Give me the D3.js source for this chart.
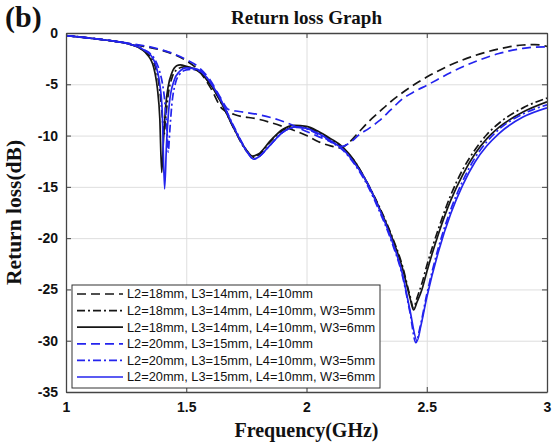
<!DOCTYPE html>
<html>
<head>
<meta charset="utf-8">
<script src="https://cdn.jsdelivr.net/npm/d3@7"></script>
<style>
  html, body { margin: 0; padding: 0; background: #fff; }
  svg { display: block; }
</style>
</head>
<body>
<svg id="chart" width="556" height="444"></svg>
<script>
// Return loss (dB) versus frequency (GHz), pairs of [f, dB]
const l18Base = [[1.00,-0.25],[1.10,-0.5],[1.20,-0.8],[1.30,-1.2],[1.40,-1.7],[1.45,-2.1],[1.50,-2.7],[1.55,-3.6],[1.60,-5.3],[1.65,-7.4],[1.70,-7.95],[1.80,-8.4],[1.90,-9.1],[2.00,-10.0],[2.05,-10.6],[2.10,-11.0],[2.14,-11.2],[2.18,-10.6],[2.22,-9.6],[2.26,-8.6],[2.30,-7.75],[2.35,-6.7],[2.40,-5.8],[2.45,-5.0],[2.50,-4.3],[2.60,-3.1],[2.70,-2.2],[2.80,-1.55],[2.90,-1.17],[2.95,-1.13],[3.00,-1.3]];
const l18W5 = [[1.00,-0.25],[1.10,-0.5],[1.20,-0.8],[1.25,-1.0],[1.30,-1.38],[1.33,-1.8],[1.35,-2.3],[1.37,-3.2],[1.38,-4.1],[1.39,-5.6],[1.40,-8.0],[1.407,-10.0],[1.415,-8.2],[1.425,-6.0],[1.44,-4.4],[1.46,-3.6],[1.49,-3.3],[1.52,-3.4],[1.55,-3.7],[1.60,-5.0],[1.65,-7.0],[1.70,-9.4],[1.75,-11.5],[1.78,-12.1],[1.80,-11.9],[1.85,-10.6],[1.90,-9.5],[1.96,-9.1],[2.00,-9.2],[2.05,-9.7],[2.10,-10.4],[2.15,-11.2],[2.20,-12.5],[2.25,-14.5],[2.30,-16.8],[2.35,-19.5],[2.40,-22.8],[2.43,-25.6],[2.445,-26.8],[2.46,-25.8],[2.48,-24.4],[2.50,-22.7],[2.55,-19.0],[2.60,-15.8],[2.65,-13.3],[2.70,-11.4],[2.75,-9.9],[2.80,-8.8],[2.90,-7.3],[3.00,-6.35]];
const l18W6 = [[1.00,-0.25],[1.10,-0.5],[1.20,-0.8],[1.25,-1.0],[1.30,-1.4],[1.33,-1.9],[1.35,-2.5],[1.36,-3.0],[1.37,-3.9],[1.38,-5.4],[1.39,-8.3],[1.398,-13.6],[1.405,-10.6],[1.415,-7.0],[1.425,-5.2],[1.44,-3.9],[1.46,-3.2],[1.475,-3.1],[1.50,-3.25],[1.55,-3.7],[1.60,-5.0],[1.65,-7.0],[1.70,-9.4],[1.75,-11.4],[1.775,-12.0],[1.80,-11.8],[1.85,-10.5],[1.90,-9.4],[1.95,-9.0],[2.00,-9.1],[2.05,-9.6],[2.10,-10.3],[2.15,-11.1],[2.20,-12.5],[2.25,-14.5],[2.30,-16.9],[2.35,-19.6],[2.40,-23.0],[2.43,-25.8],[2.445,-27.0],[2.46,-26.2],[2.48,-25.0],[2.50,-23.3],[2.55,-19.5],[2.60,-16.3],[2.65,-13.8],[2.70,-11.8],[2.75,-10.3],[2.80,-9.2],[2.90,-7.7],[3.00,-6.7]];
const l20Base = [[1.00,-0.25],[1.10,-0.5],[1.20,-0.78],[1.30,-1.15],[1.35,-1.35],[1.40,-1.65],[1.45,-2.05],[1.50,-2.6],[1.55,-3.3],[1.60,-4.6],[1.64,-6.2],[1.675,-7.45],[1.72,-7.65],[1.80,-7.95],[1.90,-8.6],[2.00,-9.6],[2.05,-10.1],[2.10,-10.6],[2.15,-11.05],[2.18,-10.7],[2.22,-9.9],[2.26,-9.3],[2.30,-8.6],[2.35,-7.5],[2.40,-6.4],[2.45,-5.7],[2.50,-5.1],[2.60,-3.85],[2.70,-2.8],[2.80,-2.0],[2.90,-1.5],[2.95,-1.38],[3.00,-1.35]];
const l20W5 = [[1.00,-0.25],[1.10,-0.5],[1.20,-0.8],[1.25,-1.0],[1.30,-1.35],[1.33,-1.7],[1.35,-2.0],[1.37,-2.6],[1.39,-3.8],[1.40,-4.8],[1.41,-6.5],[1.42,-9.5],[1.425,-11.6],[1.432,-9.4],[1.44,-7.0],[1.455,-4.9],[1.47,-4.1],[1.50,-3.6],[1.52,-3.55],[1.56,-3.75],[1.60,-4.8],[1.65,-6.8],[1.70,-9.2],[1.75,-11.4],[1.78,-12.3],[1.80,-12.1],[1.85,-10.9],[1.90,-9.7],[1.96,-9.2],[2.00,-9.35],[2.05,-9.9],[2.10,-10.6],[2.15,-11.4],[2.20,-12.8],[2.25,-14.7],[2.30,-17.2],[2.35,-20.1],[2.40,-23.8],[2.43,-27.2],[2.455,-30.2],[2.47,-28.9],[2.50,-25.5],[2.55,-20.8],[2.60,-17.2],[2.65,-14.4],[2.70,-12.2],[2.75,-10.6],[2.80,-9.4],[2.90,-7.9],[3.00,-7.0]];
const l20W6 = [[1.00,-0.25],[1.10,-0.5],[1.20,-0.8],[1.25,-1.0],[1.30,-1.35],[1.33,-1.75],[1.35,-2.1],[1.37,-2.9],[1.38,-3.7],[1.39,-5.0],[1.40,-7.6],[1.41,-15.2],[1.418,-10.8],[1.43,-6.8],[1.45,-4.6],[1.47,-3.8],[1.50,-3.4],[1.53,-3.45],[1.56,-3.7],[1.60,-4.8],[1.65,-6.8],[1.70,-9.3],[1.75,-11.5],[1.78,-12.3],[1.80,-12.1],[1.85,-10.9],[1.90,-9.7],[1.96,-9.15],[2.00,-9.3],[2.05,-9.8],[2.10,-10.5],[2.15,-11.3],[2.20,-12.7],[2.25,-14.5],[2.30,-17.0],[2.35,-19.9],[2.40,-23.6],[2.43,-27.0],[2.46,-30.0],[2.475,-28.6],[2.50,-25.8],[2.55,-21.2],[2.60,-17.6],[2.65,-14.8],[2.70,-12.6],[2.75,-11.0],[2.80,-9.8],[2.90,-8.2],[3.00,-7.3]];

const seriesLabels = [
  "L2=18mm, L3=14mm, L4=10mm",
  "L2=18mm, L3=14mm, L4=10mm, W3=5mm",
  "L2=18mm, L3=14mm, L4=10mm, W3=6mm",
  "L2=20mm, L3=15mm, L4=10mm",
  "L2=20mm, L3=15mm, L4=10mm, W3=5mm",
  "L2=20mm, L3=15mm, L4=10mm, W3=6mm"
];
const seriesValues = [l18Base, l18W5, l18W6, l20Base, l20W5, l20W6];

const xTicks = [1, 1.5, 2, 2.5, 3];
const yTicks = [0, -5, -10, -15, -20, -25, -30, -35];

// Line styles for each curve
const BLACK = "#161616", BLUE = "#2424ee";
const styles = [
  { color: BLACK, dash: "9,5" },
  { color: BLACK, dash: "8,3,2,3" },
  { color: BLACK, dash: null },
  { color: BLUE,  dash: "9,5" },
  { color: BLUE,  dash: "8,3,2,3" },
  { color: BLUE,  dash: null }
];

const svg = d3.select("#chart");
const plotL = 66, plotR = 547, plotT = 33, plotB = 392;
const W = plotR - plotL, H = plotB - plotT;

const x = d3.scaleLinear().domain([1, 3]).range([plotL, plotR]);
const y = d3.scaleLinear().domain([-35, 0]).range([plotB, plotT]);

const serif = "'Liberation Serif', 'Times New Roman', serif";
const sans = "'Liberation Sans', Arial, sans-serif";

// grid
const grid = svg.append("g");
grid.append("g")
  .attr("transform", `translate(0,${plotB})`)
  .call(d3.axisBottom(x).tickValues(xTicks.slice(1, -1)).tickSize(-H).tickFormat(""))
  .call(g => g.select(".domain").remove())
  .call(g => g.selectAll("line").attr("stroke", "#dedede").attr("stroke-width", 1));
grid.append("g")
  .attr("transform", `translate(${plotL},0)`)
  .call(d3.axisLeft(y).tickValues(yTicks.slice(1, -1)).tickSize(-W).tickFormat(""))
  .call(g => g.select(".domain").remove())
  .call(g => g.selectAll("line").attr("stroke", "#dedede").attr("stroke-width", 1));

// curves
svg.append("defs").append("clipPath").attr("id", "plotClip")
  .append("rect").attr("x", plotL).attr("y", plotT).attr("width", W).attr("height", H);

const line = d3.line()
  .x(d => x(d[0]))
  .y(d => y(d[1]))
  .curve(d3.curveMonotoneX);

const curves = svg.append("g").attr("clip-path", "url(#plotClip)");
seriesValues.forEach((vals, i) => {
  curves.append("path")
    .datum(vals)
    .attr("d", line)
    .attr("fill", "none")
    .attr("stroke", styles[i].color)
    .attr("stroke-width", 1.7)
    .attr("stroke-dasharray", styles[i].dash)
    .attr("stroke-linejoin", "round");
});

// axes with inward ticks on all four sides
const axisColor = "#444";
function styleAxis(g) {
  g.select(".domain").attr("stroke", axisColor).attr("stroke-width", 1.3);
  g.selectAll(".tick line").attr("stroke", axisColor);
  g.selectAll(".tick text")
    .attr("font-family", sans)
    .attr("font-size", 14)
    .attr("font-weight", "bold")
    .attr("fill", "#111");
}
svg.append("g")
  .attr("transform", `translate(0,${plotB})`)
  .call(d3.axisBottom(x).tickValues(xTicks).tickSize(-5).tickSizeOuter(0).tickPadding(10).tickFormat(d => String(d)))
  .call(styleAxis);
svg.append("g")
  .attr("transform", `translate(0,${plotT})`)
  .call(d3.axisTop(x).tickValues(xTicks).tickSize(-5).tickSizeOuter(0).tickFormat(""))
  .call(styleAxis);
svg.append("g")
  .attr("transform", `translate(${plotL},0)`)
  .call(d3.axisLeft(y).tickValues(yTicks).tickSize(-5).tickSizeOuter(0).tickPadding(8).tickFormat(d => String(d)))
  .call(styleAxis);
svg.append("g")
  .attr("transform", `translate(${plotR},0)`)
  .call(d3.axisRight(y).tickValues(yTicks).tickSize(-5).tickSizeOuter(0).tickFormat(""))
  .call(styleAxis);

// titles
svg.append("text")
  .attr("x", (plotL + plotR) / 2).attr("y", 24)
  .attr("text-anchor", "middle")
  .attr("font-family", serif).attr("font-weight", "bold").attr("font-size", 19)
  .attr("fill", "#111")
  .text("Return loss Graph");

svg.append("text")
  .attr("x", 5).attr("y", 27)
  .attr("font-family", serif).attr("font-weight", "bold").attr("font-size", 30)
  .attr("fill", "#111")
  .text("(b)");

svg.append("text")
  .attr("x", (plotL + plotR) / 2).attr("y", 437)
  .attr("text-anchor", "middle")
  .attr("font-family", serif).attr("font-weight", "bold").attr("font-size", 20)
  .attr("fill", "#111")
  .text("Frequency(GHz)");

svg.append("text")
  .attr("transform", `translate(21,${(plotT + plotB) / 2}) rotate(-90)`)
  .attr("text-anchor", "middle")
  .attr("font-family", serif).attr("font-weight", "bold").attr("font-size", 21.5)
  .attr("fill", "#111")
  .text("Return loss(dB)");

// legend
const lg = { x: 72, y: 285, w: 308, h: 103, row: 16.6, first: 9 };
const legend = svg.append("g");
legend.append("rect")
  .attr("x", lg.x).attr("y", lg.y).attr("width", lg.w).attr("height", lg.h)
  .attr("fill", "#fff").attr("stroke", "#333").attr("stroke-width", 1);
seriesLabels.forEach((label, i) => {
  const cy = lg.y + lg.first + i * lg.row;
  legend.append("line")
    .attr("x1", lg.x + 5).attr("x2", lg.x + 51)
    .attr("y1", cy).attr("y2", cy)
    .attr("stroke", styles[i].color)
    .attr("stroke-width", 1.7)
    .attr("stroke-dasharray", styles[i].dash);
  legend.append("text")
    .attr("x", lg.x + 55).attr("y", cy)
    .attr("dy", "0.35em")
    .attr("font-family", sans).attr("font-size", 12.8)
    .attr("fill", "#111")
    .text(label);
});
</script>
</body>
</html>
